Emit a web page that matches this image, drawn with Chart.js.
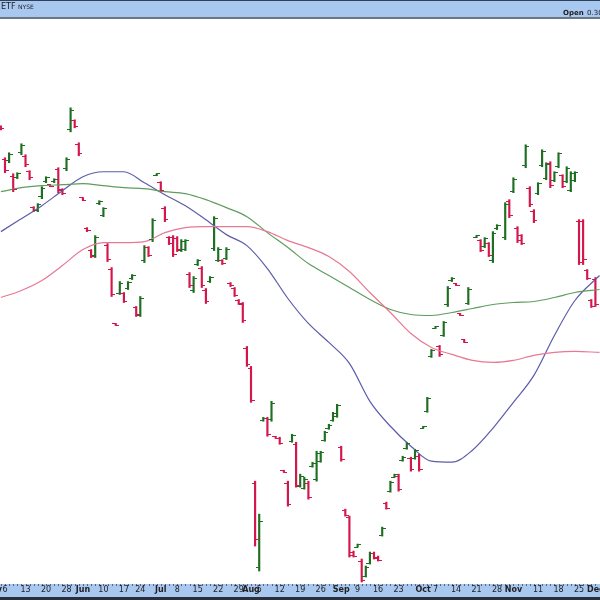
<!DOCTYPE html>
<html>
<head>
<meta charset="utf-8">
<script src="https://cdn.jsdelivr.net/npm/chart.js@4.4.1/dist/chart.umd.min.js"></script>
<style>
  html, body { margin: 0; padding: 0; background: #fff; }
  canvas { display: block; }
</style>
</head>
<body>
<canvas id="priceChart" width="600" height="600"></canvas>
<script>
"use strict";
// trading-day index of the first bar (May 6 = day 0)
const firstDay = -1;
const highs = [474, 442, 447, 426, 427, 456, 445, 429, 393, 396, 413, 423, 415, 421, 432, 411, 442, 492, 480, 457,
  402, 372, 350, 364, 399, 392, 356, 332, 276, 318, 307, 318, 325, 293, 303, 354, 353, 381, 426, 418,
  393, 363, 364, 363, 360, 360, 327, 323, 340, 333, 311, 323, 383, 352, 340, 352, 317, 312, 300, 297,
  253, 233, 118, 85, 182, 182, 198, 163, 162, 129, 118, 165, 157, 125, 122, 118, 137, 148, 148, 168,
  175, 187, 195, 153, 90, 83, 48, 55, 40, 33, 47, 47, 43, 72, 97, 118, 125, 125, 143, 157,
  142, 150, 145, 173, 202, 250, 273, 254, 278, 313, 322, 316, 286, 260, 312, null, 364, 360, 362, 357,
  368, 375, null, 397, 400, 422, 373, 365, 455, 413, 390, 417, 450, 437, 438, 428, 447, 425, 433, 428,
  428, 380, 380, 330, 300, 322];
const lows = [470, 427, 437, 408, 421, 445, 433, 420, 388, 388, 401, 417, 413, 417, 407, 405, 429, 468, 472, 444,
  399, 368, 342, 342, 395, 383, 338, 303, 274, 305, 297, 310, 320, 283, 283, 337, 343, 358, 424, 408,
  378, 355, 343, 348, 348, 349, 312, 307, 334, 312, 296, 317, 349, 338, 335, 340, 313, 303, 295, 277,
  233, 197, 53, 28, 178, 163, 178, 161, 155, 127, 93, 157, 112, 112, 110, 100, 132, 118, 137, 158,
  170, 178, 182, 138, 83, 42, 42, 52, 17, 22, 35, 40, 38, 63, 90, 107, 122, 108, 138, 150,
  128, 140, 128, 171, 187, 242, 271, 243, 263, 293, 318, 314, 284, 257, 295, null, 362, 348, 352, 343,
  337, 370, null, 360, 382, 407, 357, 355, 432, 393, 377, 405, 433, 420, 412, 418, 432, 412, 417, 408,
  418, 335, 335, 320, 292, 293];
const opens = [473, 440, 439, 423, 422, 447, 443, 428, 392, 389, 403, 418, 415, 418, 430, 410, 431, 470, 479, 455,
  402, 371, 349, 344, 396, 384, 354, 330, 276, 306, 306, 311, 321, 292, 285, 339, 352, 360, 424, 417,
  391, 362, 362, 361, 349, 350, 325, 309, 335, 331, 309, 318, 351, 339, 339, 341, 316, 311, 299, 295,
  251, 231, 116, 32, 179, 181, 180, 163, 161, 129, 116, 158, 155, 113, 111, 116, 133, 120, 138, 159,
  171, 179, 183, 152, 89, 82, 47, 52, 38, 23, 36, 46, 42, 64, 96, 108, 122, 123, 139, 151,
  141, 141, 143, 171, 188, 243, 271, 253, 264, 295, 319, 316, 286, 260, 296, null, 362, 359, 353, 356,
  339, 371, null, 362, 398, 408, 371, 364, 434, 411, 388, 406, 434, 421, 436, 419, 433, 424, 418, 409,
  419, 378, 378, 329, 299, 320];
const closes = [471, 429, 445, 410, 426, 454, 435, 422, 389, 395, 411, 422, 413, 420, 409, 406, 440, 489, 473, 446,
  399, 369, 343, 362, 398, 391, 340, 305, 274, 316, 298, 317, 324, 284, 301, 352, 344, 379, 426, 409,
  380, 356, 345, 350, 358, 359, 314, 321, 339, 314, 298, 322, 381, 350, 336, 350, 314, 304, 296, 279,
  235, 199, 60, 78, 181, 165, 196, 161, 156, 127, 95, 164, 114, 123, 120, 102, 136, 146, 147, 167,
  174, 186, 194, 140, 84, 44, 43, 55, 19, 32, 46, 41, 39, 71, 91, 117, 125, 110, 142, 156,
  130, 149, 130, 173, 201, 249, 273, 245, 277, 311, 321, 314, 284, 257, 310, null, 364, 349, 361, 344,
  366, 374, null, 395, 384, 420, 359, 356, 453, 395, 379, 416, 448, 435, 414, 427, 446, 413, 431, 426,
  427, 337, 340, 321, 293, 295];

// moving averages
const maDays = [-1, 4, 9, 14, 19, 24, 29, 34, 39, 44, 49, 54, 59, 64, 69, 74, 79, 84, 89, 94,
  99, 104, 109, 114, 119, 124, 129, 134, 139, 145];
const maFast = [368, 381, 394, 409, 423, 428, 428, 417, 405, 394, 380, 365, 354, 331, 301, 276, 257, 236, 198, 173,
  153, 138, 137, 149, 171, 197, 224, 264, 299, 324];
const maMid = [408, 412, 414, 415, 416, 414, 412, 411, 408, 406, 400, 392, 383, 367, 352, 336, 324, 312, 300, 290,
  285, 284, 287, 291, 295, 297, 298, 302, 307, 310];
const maSlow = [302, 309, 319, 334, 350, 357, 357, 358, 367, 372, 373, 373, 373, 368, 359, 352, 343, 328, 307, 287,
  266, 252, 245, 239, 237, 239, 244, 247, 248, 247];

const tickDays = [-3, 0, 5, 10, 15, 19, 24, 29, 33, 38, 42, 47, 52, 57, 60, 62, 67, 72, 77, 82,
  86, 91, 96, 102, 105, 110, 115, 120, 124, 130, 135, 140, 144];
const tickLabels = ["May", "6", "13", "20", "28", "Jun", "10", "17", "24", "Jul", "8", "15", "22", "29", "Aug", "5", "12", "19", "26", "Sep",
  "9", "16", "23", "Oct", "7", "14", "21", "28", "Nov", "11", "18", "25", "Dec"];
const monthLabels = ["May", "Jun", "Jul", "Aug", "Sep", "Oct", "Nov", "Dec"];

const upColor = "#1f6f22";
const downColor = "#d3174c";
const fastColor = "#5c5caa";
const midColor = "#5f9c5f";
const slowColor = "#e87894";
const bandColor = "#a9c8f0";
const fontFamily = "'DejaVu Sans', Verdana, sans-serif";

function makeTickImage(color, side) {
  const c = document.createElement("canvas");
  c.width = 7;
  c.height = 1;
  const g = c.getContext("2d");
  g.fillStyle = color;
  g.fillRect(side === "left" ? 0 : 3, 0, 4, 1);
  return c;
}
const openUp = makeTickImage(upColor, "left");
const openDown = makeTickImage(downColor, "left");
const closeUp = makeTickImage(upColor, "right");
const closeDown = makeTickImage(downColor, "right");

const rangePoints = [];
const openPoints = [];
const closePoints = [];
highs.forEach((high, k) => {
  if (high == null) return;
  const day = k + firstDay;
  const up = closes[k] >= opens[k];
  rangePoints.push({ x: day, y: [lows[k], high], up });
  openPoints.push({ x: day, y: opens[k], up });
  closePoints.push({ x: day, y: closes[k], up });
});
const toLine = (values) => values.map((v, k) => ({ x: maDays[k], y: v }));

const frameBands = {
  id: "frameBands",
  beforeDraw(chart) {
    const { ctx, chartArea, scales } = chart;
    ctx.save();
    ctx.fillStyle = "#fff";
    ctx.fillRect(0, 0, chart.width, chart.height);
    // header strip
    ctx.fillStyle = bandColor;
    ctx.fillRect(0, 0, chart.width, 18);
    ctx.fillStyle = "#2e3f5c";
    ctx.fillRect(0, 0, chart.width, 1);
    ctx.fillStyle = "#6a7688";
    ctx.fillRect(0, 17, chart.width, 2);
    // axis strip
    ctx.fillStyle = bandColor;
    ctx.fillRect(0, chartArea.bottom, chart.width, 597 - chartArea.bottom);
    ctx.fillStyle = "#2a2f3a";
    ctx.fillRect(0, 597, chart.width, 3);
    ctx.fillStyle = "#5a6578";
    for (let d = firstDay - 1; d <= 146; d++) {
      const x = Math.round(scales.x.getPixelForValue(d));
      ctx.fillRect(x, chartArea.bottom, 1, 2);
    }
    ctx.restore();
  },
  afterDraw(chart) {
    const { ctx } = chart;
    ctx.save();
    ctx.fillStyle = "#1c1c1c";
    ctx.textBaseline = "alphabetic";
    ctx.font = "8px " + fontFamily;
    ctx.fillText("ETF", 1, 9);
    ctx.font = "6px " + fontFamily;
    ctx.fillText("NYSE", 18, 9);
    ctx.font = "bold 7px " + fontFamily;
    ctx.fillText("Open", 563, 15);
    ctx.font = "7px " + fontFamily;
    ctx.fillText("0.30", 587, 15);
    ctx.restore();
  }
};

new Chart(document.getElementById("priceChart"), {
  type: "bar",
  data: {
    datasets: [
      { type: "line", data: toLine(maSlow), borderColor: slowColor, borderWidth: 1.2, pointRadius: 0, cubicInterpolationMode: "monotone", order: 1 },
      { type: "line", data: toLine(maMid), borderColor: midColor, borderWidth: 1.2, pointRadius: 0, cubicInterpolationMode: "monotone", order: 1 },
      { type: "line", data: toLine(maFast), borderColor: fastColor, borderWidth: 1.2, pointRadius: 0, cubicInterpolationMode: "monotone", order: 1 },
      {
        type: "bar",
        data: rangePoints,
        backgroundColor: (ctx) => (ctx.raw && ctx.raw.up ? upColor : downColor),
        borderWidth: 0,
        barThickness: 1.5,
        grouped: false,
        order: 2
      },
      {
        type: "scatter",
        data: openPoints,
        pointStyle: (ctx) => (ctx.raw && ctx.raw.up ? openUp : openDown),
        pointRadius: 2,
        order: 0
      },
      {
        type: "scatter",
        data: closePoints,
        pointStyle: (ctx) => (ctx.raw && ctx.raw.up ? closeUp : closeDown),
        pointRadius: 2,
        order: 0
      }
    ]
  },
  options: {
    responsive: false,
    animation: false,
    events: [],
    layout: { autoPadding: false, padding: { top: 19, bottom: 4.4, left: 0, right: 0 } },
    plugins: { legend: { display: false }, tooltip: { enabled: false } },
    scales: {
      x: {
        type: "linear",
        min: -1.22,
        max: 145.12,
        offset: false,
        grid: { display: false, drawTicks: false },
        border: { display: false },
        afterBuildTicks: (axis) => { axis.ticks = tickDays.map((value) => ({ value })); },
        afterFit: (axis) => { axis.paddingLeft = 0; axis.paddingRight = 0; },
        ticks: {
          autoSkip: false,
          maxRotation: 0,
          padding: 1,
          color: "#222",
          callback: (value) => {
            const k = tickDays.indexOf(value);
            return k >= 0 ? tickLabels[k] : "";
          },
          font: (ctx) => {
            const k = ctx.tick ? tickDays.indexOf(ctx.tick.value) : -1;
            const bold = k >= 0 && monthLabels.includes(tickLabels[k]);
            return { family: fontFamily, size: 8, weight: bold ? "bold" : "normal" };
          }
        }
      },
      y: { display: false, min: 15, max: 581 }
    }
  },
  plugins: [frameBands]
});
</script>
</body>
</html>
